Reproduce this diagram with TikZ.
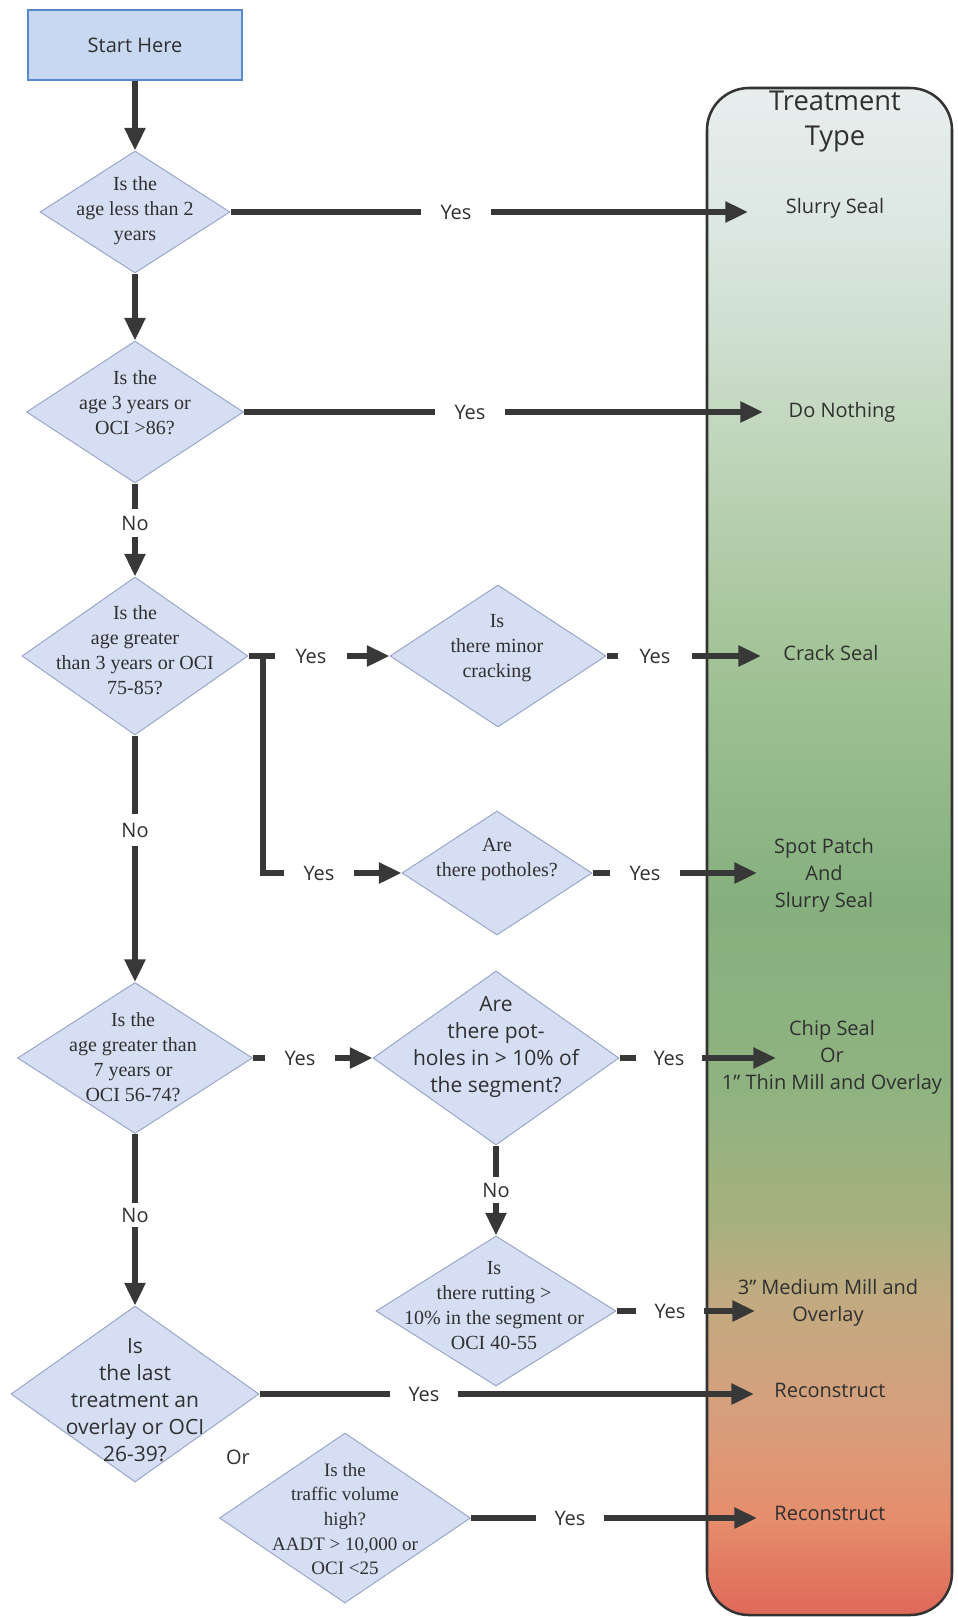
\documentclass[tikz,border=0pt]{standalone}
\usepackage{fontspec}
\setmainfont{Liberation Serif}
\setsansfont{Open Sans}
\usetikzlibrary{shapes.geometric,arrows.meta}
\newdimen\PX \PX=0.75pt
\definecolor{linecol}{HTML}{383838}
\definecolor{diafill}{HTML}{D6DEF3}
\definecolor{diaedge}{HTML}{9AA8C8}
\definecolor{startfill}{HTML}{C8D8F1}
\definecolor{startedge}{HTML}{5A88CC}
\definecolor{txtcol}{HTML}{303030}
\definecolor{boxedge}{HTML}{333333}
\definecolor{g0}{HTML}{E9EEEE}
\definecolor{g1}{HTML}{DBE7E2}
\definecolor{g2}{HTML}{C0D5BA}
\definecolor{g3}{HTML}{A3C498}
\definecolor{g4}{HTML}{86B07E}
\definecolor{g5}{HTML}{90B380}
\definecolor{g6}{HTML}{A9B07F}
\definecolor{g7}{HTML}{C2AA80}
\definecolor{g8}{HTML}{D89E7C}
\definecolor{g9}{HTML}{E58D6C}
\definecolor{g10}{HTML}{DF6758}
\begin{document}
\begin{tikzpicture}[x=0.75pt,y=-0.75pt,
  every node/.style={inner sep=0pt},
  conn/.style={draw=linecol, line width=5pt},
  arr/.style={conn, -{Triangle[length=17pt,width=15pt]}},
  dia/.style={diamond, draw=diaedge, fill=diafill, line width=0.75pt},
  sertext/.style={font=\fontsize{15}{18.75}\selectfont, align=center, text=txtcol},
  santext/.style={font=\sffamily\fontsize{15.75}{20.25}\selectfont, align=center, text=txtcol},
  restext/.style={font=\sffamily\fontsize{15}{20.25}\selectfont, align=center, text=txtcol},
  yeslab/.style={font=\sffamily\fontsize{15}{18}\selectfont, text=txtcol, minimum width=70*\PX},
  nolab/.style={font=\sffamily\fontsize{15}{18}\selectfont, text=txtcol, minimum height=27*\PX}]
\useasboundingbox (0,0) rectangle (957,1617);
\fill[white] (0,0) rectangle (957,1617);

% treatment column
\begin{scope}
\clip[rounded corners=31.5pt] (707,88) rectangle (952,1615);
\shade[top color=g0, bottom color=g1] (700,80) rectangle (960,231);
\shade[top color=g1, bottom color=g2] (700,230) rectangle (960,451);
\shade[top color=g2, bottom color=g3] (700,450) rectangle (960,651);
\shade[top color=g3, bottom color=g4] (700,650) rectangle (960,901);
\shade[top color=g4, bottom color=g5] (700,900) rectangle (960,1101);
\shade[top color=g5, bottom color=g6] (700,1100) rectangle (960,1231);
\shade[top color=g6, bottom color=g7] (700,1230) rectangle (960,1301);
\shade[top color=g7, bottom color=g8] (700,1300) rectangle (960,1421);
\shade[top color=g8, bottom color=g9] (700,1420) rectangle (960,1521);
\shade[top color=g9, bottom color=g10] (700,1520) rectangle (960,1620);
\end{scope}
\draw[boxedge, line width=1.9pt, rounded corners=31.5pt] (707,88) rectangle (952,1615);

\node[font=\sffamily\fontsize{20.5}{26.25}\selectfont, align=center, text=txtcol] (title) at (835,122) {Treatment\\Type};

% start
\node[draw=startedge, fill=startfill, line width=1.1pt, minimum width=214*\PX, minimum height=70*\PX,
  font=\sffamily\fontsize{15}{18}\selectfont, text=txtcol] (start) at (135,45) {Start Here};

% diamonds
\node[dia, minimum width=190*\PX, minimum height=122*\PX] (d1) at (135,212) {};
\node[dia, minimum width=217*\PX, minimum height=142*\PX] (d2) at (135,412) {};
\node[dia, minimum width=226*\PX, minimum height=158*\PX] (d3) at (135,656) {};
\node[dia, minimum width=216*\PX, minimum height=142*\PX] (d4) at (498,656) {};
\node[dia, minimum width=190*\PX, minimum height=124*\PX] (d5) at (497,873) {};
\node[dia, minimum width=235*\PX, minimum height=151*\PX] (d6) at (135,1058) {};
\node[dia, minimum width=246*\PX, minimum height=174*\PX] (d7) at (496,1058) {};
\node[dia, minimum width=248*\PX, minimum height=176*\PX] (d8) at (135,1394) {};
\node[dia, minimum width=240*\PX, minimum height=150*\PX] (d9) at (496,1311) {};
\node[dia, minimum width=251*\PX, minimum height=170*\PX] (d10) at (345,1518) {};

\node[sertext] (d1t) at (135,211) {Is the\\age less than 2\\years};
\node[sertext] (d2t) at (135,403) {Is the\\age 3 years or\\OCI >86?};
\node[sertext] (d3t) at (135,650) {Is the\\age greater\\than 3 years or OCI\\75-85?};
\node[sertext] (d4t) at (497,648) {Is\\there minor\\cracking};
\node[sertext] (d5t) at (497,860) {Are\\there potholes?};
\node[sertext] (d6t) at (133,1057) {Is the\\age greater than\\7 years or\\OCI 56-74?};
\node[santext] (d7t) at (496,1047) {Are\\there pot-\\holes in > 10\% of\\the segment?};
\node[santext] (d8t) at (135,1400) {Is\\the last\\treatment an\\overlay or OCI\\26-39?};
\node[sertext] (d9t) at (494,1306) {Is\\there rutting >\\10\% in the segment or\\OCI 40-55};
\node[sertext, font=\fontsize{14.25}{18.5}\selectfont] (d10t) at (345,1519) {Is the\\traffic volume\\high?\\AADT > 10,000 or\\OCI <25};

% labels
\node[yeslab] (L1) at (456,212) {Yes};
\node[yeslab] (L2) at (470,412) {Yes};
\node[yeslab, minimum width=72*\PX] (yA) at (311,656) {Yes};
\node[yeslab] (yB) at (319,873) {Yes};
\node[yeslab, minimum width=74*\PX] (L4) at (655,656) {Yes};
\node[yeslab] (L5) at (645,873) {Yes};
\node[yeslab] (L6) at (300,1058) {Yes};
\node[yeslab, minimum width=66*\PX] (L7) at (669,1058) {Yes};
\node[yeslab, minimum width=68*\PX] (L9) at (670,1311) {Yes};
\node[yeslab, minimum width=67*\PX] (L8) at (424,1394) {Yes};
\node[yeslab, minimum width=67*\PX] (L10) at (570,1518) {Yes};
\node[nolab] (N1) at (135,523) {No};
\node[nolab, minimum height=31*\PX] (N2) at (135,830) {No};
\node[nolab, minimum height=24*\PX] (N3) at (135,1215) {No};
\node[nolab, minimum height=26*\PX] (N4) at (496,1190) {No};
\node[font=\sffamily\fontsize{15}{18}\selectfont, text=txtcol] (orl) at (238,1457) {Or};

% junction and tip coordinates
\coordinate (j1) at (263,656);
\coordinate (j2) at (263,873);
\coordinate (t1) at (748,212);
\coordinate (t2) at (763,412);
\coordinate (t4) at (761,656);
\coordinate (t5) at (757,873);
\coordinate (t7) at (776,1058);
\coordinate (t9) at (755,1311);
\coordinate (t8) at (754,1394);
\coordinate (t10) at (757,1518);

% results
\node[restext] (r1) at (835,208) {Slurry Seal};
\node[restext] (r2) at (842,412) {Do Nothing};
\node[restext] (r4) at (831,653) {Crack Seal};
\node[restext] (r5) at (824,875) {Spot Patch\\And\\Slurry Seal};
\node[restext] (r7) at (832,1057) {Chip Seal\\Or\\1” Thin Mill and Overlay};
\node[restext] (r9) at (828,1303) {3” Medium Mill and\\Overlay};
\node[restext] (r8) at (830,1390) {Reconstruct};
\node[restext] (r10) at (830,1513) {Reconstruct};

% connectors
\draw[arr] (start.south) -- (d1.north);
\draw[arr] (d1.south) -- (d2.north);
\draw[conn] (d2.south) -- (N1.north);
\draw[arr] (N1.south) -- (d3.north);
\draw[conn] (d3.south) -- (N2.north);
\draw[arr] (N2.south) -- (d6.north);
\draw[conn] (d6.south) -- (N3.north);
\draw[arr] (N3.south) -- (d8.north);
\draw[conn] (d7.south) -- (N4.north);
\draw[arr] (N4.south) -- (d9.north);

\draw[conn] (d1.east) -- (L1.west);
\draw[arr] (L1.east) -- (t1);
\draw[conn] (d2.east) -- (L2.west);
\draw[arr] (L2.east) -- (t2);

\draw[conn] (d3.east) -- (yA.west);
\draw[conn] (j1) -- (j2) -- (yB.west);
\draw[arr] (yA.east) -- (d4.west);
\draw[arr] (yB.east) -- (d5.west);

\draw[conn] (d4.east) -- (L4.west);
\draw[arr] (L4.east) -- (t4);
\draw[conn] (d5.east) -- (L5.west);
\draw[arr] (L5.east) -- (t5);

\draw[conn] (d6.east) -- (L6.west);
\draw[arr] (L6.east) -- (d7.west);
\draw[conn] (d7.east) -- (L7.west);
\draw[arr] (L7.east) -- (t7);
\draw[conn] (d9.east) -- (L9.west);
\draw[arr] (L9.east) -- (t9);
\draw[conn] (d8.east) -- (L8.west);
\draw[arr] (L8.east) -- (t8);
\draw[conn] (d10.east) -- (L10.west);
\draw[arr] (L10.east) -- (t10);
\end{tikzpicture}
\end{document}
